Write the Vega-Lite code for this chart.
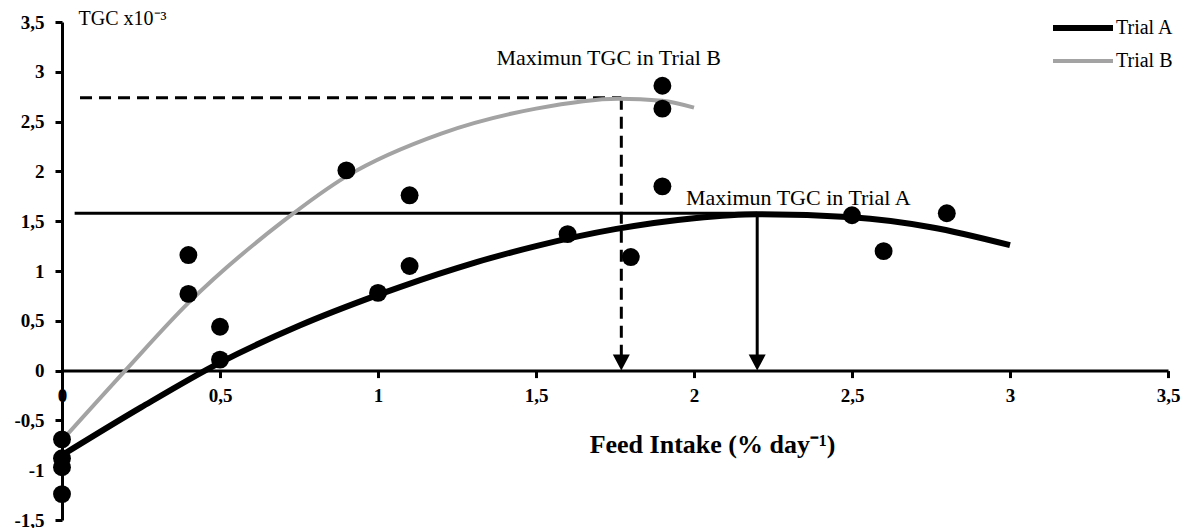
{
  "$schema": "https://vega.github.io/schema/vega-lite/v6.json",
  "width": 1106,
  "height": 498,
  "autosize": "none",
  "padding": {"left": 62, "top": 22, "right": 16, "bottom": 8},
  "background": "white",
  "config": {
    "view": {"stroke": null},
    "font": "Liberation Serif, Times New Roman, serif",
    "axis": {
      "grid": false,
      "domainColor": "black",
      "domainWidth": 3,
      "tickColor": "black",
      "tickWidth": 3,
      "tickSize": 7,
      "labelColor": "black",
      "labelFont": "Liberation Serif, Times New Roman, serif",
      "labelFontSize": 19,
      "labelFontWeight": "bold",
      "titleColor": "black",
      "titleFont": "Liberation Serif, Times New Roman, serif"
    },
    "legend": {"labelFont": "Liberation Serif, Times New Roman, serif"},
    "text": {"font": "Liberation Serif, Times New Roman, serif"}
  },
  "datasets": {
    "curves": [
      {"trial": "Trial A", "x": 0, "y": -0.85},
      {"trial": "Trial A", "x": 0.25, "y": -0.37},
      {"trial": "Trial A", "x": 0.5, "y": 0.08},
      {"trial": "Trial A", "x": 0.75, "y": 0.45},
      {"trial": "Trial A", "x": 1.0, "y": 0.76},
      {"trial": "Trial A", "x": 1.25, "y": 1.03},
      {"trial": "Trial A", "x": 1.5, "y": 1.25},
      {"trial": "Trial A", "x": 1.75, "y": 1.42},
      {"trial": "Trial A", "x": 2.0, "y": 1.53},
      {"trial": "Trial A", "x": 2.2, "y": 1.57},
      {"trial": "Trial A", "x": 2.5, "y": 1.54},
      {"trial": "Trial A", "x": 2.75, "y": 1.44},
      {"trial": "Trial A", "x": 3.0, "y": 1.26},
      {"trial": "Trial B", "x": 0, "y": -0.7},
      {"trial": "Trial B", "x": 0.2, "y": 0.0},
      {"trial": "Trial B", "x": 0.4, "y": 0.68},
      {"trial": "Trial B", "x": 0.7, "y": 1.5},
      {"trial": "Trial B", "x": 0.9, "y": 1.95},
      {"trial": "Trial B", "x": 1.2, "y": 2.38},
      {"trial": "Trial B", "x": 1.5, "y": 2.63},
      {"trial": "Trial B", "x": 1.76, "y": 2.73},
      {"trial": "Trial B", "x": 1.9, "y": 2.71},
      {"trial": "Trial B", "x": 2.0, "y": 2.64}
    ],
    "points": [
      {"x": 0, "y": -0.69},
      {"x": 0, "y": -0.88},
      {"x": 0, "y": -0.97},
      {"x": 0, "y": -1.24},
      {"x": 0.4, "y": 1.16},
      {"x": 0.4, "y": 0.77},
      {"x": 0.5, "y": 0.44},
      {"x": 0.5, "y": 0.11},
      {"x": 0.9, "y": 2.01},
      {"x": 1.0, "y": 0.78},
      {"x": 1.1, "y": 1.76},
      {"x": 1.1, "y": 1.05},
      {"x": 1.6, "y": 1.37},
      {"x": 1.8, "y": 1.14},
      {"x": 1.9, "y": 1.85},
      {"x": 1.9, "y": 2.63},
      {"x": 1.9, "y": 2.86},
      {"x": 2.5, "y": 1.56},
      {"x": 2.6, "y": 1.2},
      {"x": 2.8, "y": 1.58}
    ],
    "dashed": [
      {"x": 0.057, "x2": 1.77, "y": 2.74, "y2": 2.74},
      {"x": 1.77, "x2": 1.77, "y": 2.74, "y2": 0.12}
    ],
    "solid": [
      {"x": 0.04, "x2": 2.2, "y": 1.58, "y2": 1.58},
      {"x": 2.2, "x2": 2.2, "y": 1.58, "y2": 0.12}
    ],
    "arrows": [
      {"x": 1.77, "y": 0},
      {"x": 2.2, "y": 0}
    ],
    "labels": [
      {"x": 1.73, "y": 3.14, "label": "Maximun TGC in Trial B"},
      {"x": 2.33, "y": 1.73, "label": "Maximun TGC in Trial A"}
    ]
  },
  "encoding": {
    "x": {
      "field": "x",
      "type": "quantitative",
      "scale": {"domain": [0, 3.5], "nice": false, "zero": false},
      "axis": {
        "values": [0, 0.5, 1, 1.5, 2, 2.5, 3, 3.5],
        "offset": -149.4,
        "labelExpr": "replace(toString(datum.value), '.', ',')",
        "labelPadding": 9,
        "labelFlush": false,
        "title": "Feed Intake (% day⁻¹)",
        "titleFontSize": 26,
        "titleFontWeight": "bold",
        "titleX": 650,
        "titleY": 74,
        "titleAlign": "center",
        "titleBaseline": "middle",
        "titleAnchor": null
      }
    },
    "y": {
      "field": "y",
      "type": "quantitative",
      "scale": {"domain": [-1.5, 3.5], "nice": false, "zero": false},
      "axis": {
        "values": [-1.5, -1, -0.5, 0, 0.5, 1, 1.5, 2, 2.5, 3, 3.5],
        "labelExpr": "replace(toString(datum.value), '.', ',')",
        "labelPadding": 11,
        "labelFlush": false,
        "title": "TGC x10⁻³",
        "titleFontSize": 20,
        "titleFontWeight": "normal",
        "titleAngle": 0,
        "titleX": 16,
        "titleY": -4,
        "titleAlign": "left",
        "titleBaseline": "middle",
        "titleAnchor": null
      }
    }
  },
  "layer": [
    {
      "data": {"name": "dashed"},
      "mark": {"type": "rule", "color": "black", "strokeWidth": 3, "strokeDash": [12, 7]},
      "encoding": {"x2": {"field": "x2"}, "y2": {"field": "y2"}}
    },
    {
      "data": {"name": "solid"},
      "mark": {"type": "rule", "color": "black", "strokeWidth": 3},
      "encoding": {"x2": {"field": "x2"}, "y2": {"field": "y2"}}
    },
    {
      "data": {"name": "arrows"},
      "mark": {"type": "point", "shape": "M-1,-1.9L1,-1.9L0,0Z", "size": 289, "filled": true, "color": "black", "opacity": 1, "strokeWidth": 0}
    },
    {
      "data": {"name": "curves"},
      "mark": {"type": "line", "interpolate": "monotone", "strokeCap": "butt"},
      "encoding": {
        "color": {
          "field": "trial",
          "type": "nominal",
          "scale": {"domain": ["Trial A", "Trial B"], "range": ["black", "#a3a3a3"]},
          "legend": {
            "orient": "none",
            "legendX": 1008,
            "legendY": -7,
            "title": null,
            "padding": 0,
            "symbolType": "M-3,0H3",
            "symbolSize": 400,
            "labelOffset": 20,
            "rowPadding": 9,
            "labelFont": "Liberation Serif, Times New Roman, serif",
            "labelFontSize": 20,
            "labelColor": "black"
          }
        },
        "strokeWidth": {
          "field": "trial",
          "type": "nominal",
          "scale": {"domain": ["Trial A", "Trial B"], "range": [6, 4]}
        }
      }
    },
    {
      "data": {"name": "points"},
      "mark": {"type": "circle", "size": 320, "color": "black", "opacity": 1}
    },
    {
      "data": {"name": "labels"},
      "mark": {"type": "text", "font": "Liberation Serif, Times New Roman, serif", "fontSize": 22, "align": "center", "baseline": "middle", "color": "black"},
      "encoding": {"text": {"field": "label"}}
    }
  ]
}
